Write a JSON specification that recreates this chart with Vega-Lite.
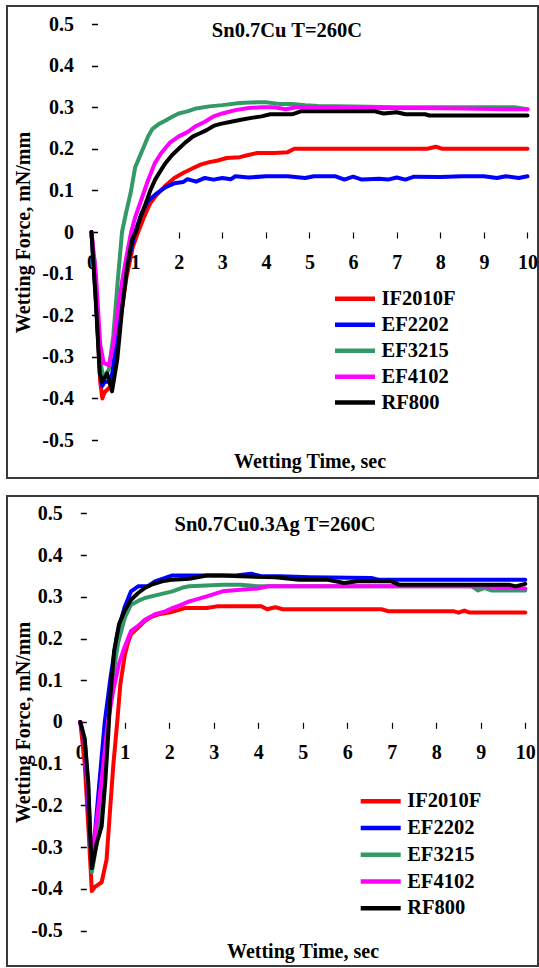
{
  "$schema": "https://vega.github.io/schema/vega-lite/v6.json",
  "padding": {"left": 6, "top": 5, "right": 0, "bottom": 0},
  "spacing": 16,
  "resolve": {"scale": {"color": "independent"}, "legend": {"color": "independent"}},
  "config": {
    "view": {"stroke": "#3a3a3a", "strokeWidth": 2, "fill": "white"},
    "font": "Liberation Serif",
    "background": "white",
    "axis": {"labelFont": "Liberation Serif", "titleFont": "Liberation Serif", "labelFontWeight": "bold", "titleFontWeight": "bold", "labelColor": "#000", "titleColor": "#000"},
    "legend": {"labelFont": "Liberation Serif", "labelFontWeight": "bold", "labelColor": "#000"},
    "title": {"font": "Liberation Serif", "fontWeight": "bold", "color": "#000"},
    "text": {"font": "Liberation Serif"}
  },
  "datasets": {
    "top": [
      {"s":"IF2010F","t":0,"v":0},{"s":"IF2010F","t":0.1,"v":-0.15},{"s":"IF2010F","t":0.2,"v":-0.36},{"s":"IF2010F","t":0.25,"v":-0.4},{"s":"IF2010F","t":0.3,"v":-0.385},{"s":"IF2010F","t":0.45,"v":-0.37},{"s":"IF2010F","t":0.55,"v":-0.3},{"s":"IF2010F","t":0.65,"v":-0.22},{"s":"IF2010F","t":0.8,"v":-0.11},{"s":"IF2010F","t":0.95,"v":-0.035},{"s":"IF2010F","t":1.07,"v":0},{"s":"IF2010F","t":1.2,"v":0.035},{"s":"IF2010F","t":1.35,"v":0.07},{"s":"IF2010F","t":1.5,"v":0.09},{"s":"IF2010F","t":1.7,"v":0.112},{"s":"IF2010F","t":1.9,"v":0.13},{"s":"IF2010F","t":2.1,"v":0.142},{"s":"IF2010F","t":2.3,"v":0.152},{"s":"IF2010F","t":2.5,"v":0.162},{"s":"IF2010F","t":2.7,"v":0.168},{"s":"IF2010F","t":2.9,"v":0.172},{"s":"IF2010F","t":3.1,"v":0.178},{"s":"IF2010F","t":3.4,"v":0.18},{"s":"IF2010F","t":3.6,"v":0.185},{"s":"IF2010F","t":3.8,"v":0.19},{"s":"IF2010F","t":4.2,"v":0.19},{"s":"IF2010F","t":4.5,"v":0.192},{"s":"IF2010F","t":4.65,"v":0.2},{"s":"IF2010F","t":5.5,"v":0.2},{"s":"IF2010F","t":6.5,"v":0.2},{"s":"IF2010F","t":7.7,"v":0.2},{"s":"IF2010F","t":7.9,"v":0.205},{"s":"IF2010F","t":8.05,"v":0.2},{"s":"IF2010F","t":9,"v":0.2},{"s":"IF2010F","t":10,"v":0.2},
      {"s":"EF2202","t":0,"v":0},{"s":"EF2202","t":0.1,"v":-0.16},{"s":"EF2202","t":0.2,"v":-0.34},{"s":"EF2202","t":0.25,"v":-0.37},{"s":"EF2202","t":0.3,"v":-0.36},{"s":"EF2202","t":0.45,"v":-0.36},{"s":"EF2202","t":0.6,"v":-0.24},{"s":"EF2202","t":0.8,"v":-0.09},{"s":"EF2202","t":1.0,"v":0},{"s":"EF2202","t":1.15,"v":0.045},{"s":"EF2202","t":1.3,"v":0.075},{"s":"EF2202","t":1.5,"v":0.093},{"s":"EF2202","t":1.7,"v":0.108},{"s":"EF2202","t":1.9,"v":0.117},{"s":"EF2202","t":2.1,"v":0.12},{"s":"EF2202","t":2.2,"v":0.127},{"s":"EF2202","t":2.4,"v":0.121},{"s":"EF2202","t":2.6,"v":0.13},{"s":"EF2202","t":2.8,"v":0.126},{"s":"EF2202","t":3.0,"v":0.13},{"s":"EF2202","t":3.2,"v":0.127},{"s":"EF2202","t":3.3,"v":0.134},{"s":"EF2202","t":3.6,"v":0.131},{"s":"EF2202","t":4.0,"v":0.134},{"s":"EF2202","t":4.5,"v":0.134},{"s":"EF2202","t":4.9,"v":0.13},{"s":"EF2202","t":5.1,"v":0.134},{"s":"EF2202","t":5.6,"v":0.134},{"s":"EF2202","t":5.8,"v":0.126},{"s":"EF2202","t":6.0,"v":0.133},{"s":"EF2202","t":6.2,"v":0.126},{"s":"EF2202","t":6.6,"v":0.128},{"s":"EF2202","t":6.8,"v":0.126},{"s":"EF2202","t":7.0,"v":0.131},{"s":"EF2202","t":7.2,"v":0.126},{"s":"EF2202","t":7.4,"v":0.133},{"s":"EF2202","t":8.0,"v":0.132},{"s":"EF2202","t":8.5,"v":0.134},{"s":"EF2202","t":9.0,"v":0.134},{"s":"EF2202","t":9.3,"v":0.13},{"s":"EF2202","t":9.5,"v":0.134},{"s":"EF2202","t":9.8,"v":0.13},{"s":"EF2202","t":10,"v":0.134},
      {"s":"EF3215","t":0,"v":0},{"s":"EF3215","t":0.1,"v":-0.14},{"s":"EF3215","t":0.2,"v":-0.31},{"s":"EF3215","t":0.27,"v":-0.35},{"s":"EF3215","t":0.4,"v":-0.33},{"s":"EF3215","t":0.5,"v":-0.25},{"s":"EF3215","t":0.6,"v":-0.12},{"s":"EF3215","t":0.7,"v":0},{"s":"EF3215","t":0.8,"v":0.05},{"s":"EF3215","t":0.9,"v":0.095},{"s":"EF3215","t":1.0,"v":0.155},{"s":"EF3215","t":1.1,"v":0.18},{"s":"EF3215","t":1.2,"v":0.205},{"s":"EF3215","t":1.3,"v":0.23},{"s":"EF3215","t":1.4,"v":0.248},{"s":"EF3215","t":1.55,"v":0.26},{"s":"EF3215","t":1.7,"v":0.268},{"s":"EF3215","t":1.85,"v":0.277},{"s":"EF3215","t":2.0,"v":0.285},{"s":"EF3215","t":2.2,"v":0.29},{"s":"EF3215","t":2.4,"v":0.297},{"s":"EF3215","t":2.7,"v":0.302},{"s":"EF3215","t":3.0,"v":0.305},{"s":"EF3215","t":3.4,"v":0.31},{"s":"EF3215","t":3.8,"v":0.312},{"s":"EF3215","t":4.0,"v":0.312},{"s":"EF3215","t":4.3,"v":0.308},{"s":"EF3215","t":4.6,"v":0.308},{"s":"EF3215","t":4.9,"v":0.305},{"s":"EF3215","t":5.2,"v":0.303},{"s":"EF3215","t":6,"v":0.302},{"s":"EF3215","t":7,"v":0.3},{"s":"EF3215","t":8,"v":0.3},{"s":"EF3215","t":9,"v":0.3},{"s":"EF3215","t":9.7,"v":0.3},{"s":"EF3215","t":10,"v":0.295},
      {"s":"EF4102","t":0,"v":0},{"s":"EF4102","t":0.1,"v":-0.1},{"s":"EF4102","t":0.2,"v":-0.27},{"s":"EF4102","t":0.28,"v":-0.315},{"s":"EF4102","t":0.4,"v":-0.32},{"s":"EF4102","t":0.5,"v":-0.27},{"s":"EF4102","t":0.6,"v":-0.19},{"s":"EF4102","t":0.7,"v":-0.12},{"s":"EF4102","t":0.8,"v":-0.06},{"s":"EF4102","t":0.91,"v":0},{"s":"EF4102","t":1.0,"v":0.035},{"s":"EF4102","t":1.1,"v":0.065},{"s":"EF4102","t":1.2,"v":0.095},{"s":"EF4102","t":1.3,"v":0.125},{"s":"EF4102","t":1.45,"v":0.165},{"s":"EF4102","t":1.6,"v":0.19},{"s":"EF4102","t":1.8,"v":0.215},{"s":"EF4102","t":2.0,"v":0.23},{"s":"EF4102","t":2.2,"v":0.24},{"s":"EF4102","t":2.4,"v":0.255},{"s":"EF4102","t":2.6,"v":0.265},{"s":"EF4102","t":2.8,"v":0.278},{"s":"EF4102","t":3.0,"v":0.285},{"s":"EF4102","t":3.3,"v":0.293},{"s":"EF4102","t":3.6,"v":0.298},{"s":"EF4102","t":3.9,"v":0.3},{"s":"EF4102","t":4.2,"v":0.3},{"s":"EF4102","t":4.45,"v":0.295},{"s":"EF4102","t":4.7,"v":0.3},{"s":"EF4102","t":5.5,"v":0.3},{"s":"EF4102","t":6.5,"v":0.298},{"s":"EF4102","t":7.5,"v":0.298},{"s":"EF4102","t":8.5,"v":0.297},{"s":"EF4102","t":9.5,"v":0.295},{"s":"EF4102","t":10,"v":0.295},
      {"s":"RF800","t":0,"v":0},{"s":"RF800","t":0.1,"v":-0.17},{"s":"RF800","t":0.19,"v":-0.34},{"s":"RF800","t":0.245,"v":-0.36},{"s":"RF800","t":0.36,"v":-0.34},{"s":"RF800","t":0.47,"v":-0.383},{"s":"RF800","t":0.59,"v":-0.307},{"s":"RF800","t":0.7,"v":-0.187},{"s":"RF800","t":0.82,"v":-0.083},{"s":"RF800","t":0.93,"v":-0.018},{"s":"RF800","t":1.02,"v":0},{"s":"RF800","t":1.12,"v":0.035},{"s":"RF800","t":1.23,"v":0.065},{"s":"RF800","t":1.35,"v":0.1},{"s":"RF800","t":1.46,"v":0.126},{"s":"RF800","t":1.6,"v":0.15},{"s":"RF800","t":1.7,"v":0.166},{"s":"RF800","t":1.85,"v":0.185},{"s":"RF800","t":2.0,"v":0.2},{"s":"RF800","t":2.15,"v":0.215},{"s":"RF800","t":2.33,"v":0.23},{"s":"RF800","t":2.5,"v":0.238},{"s":"RF800","t":2.64,"v":0.245},{"s":"RF800","t":2.8,"v":0.255},{"s":"RF800","t":2.96,"v":0.26},{"s":"RF800","t":3.2,"v":0.265},{"s":"RF800","t":3.43,"v":0.27},{"s":"RF800","t":3.7,"v":0.275},{"s":"RF800","t":3.9,"v":0.278},{"s":"RF800","t":4.1,"v":0.283},{"s":"RF800","t":4.6,"v":0.283},{"s":"RF800","t":4.8,"v":0.29},{"s":"RF800","t":5.5,"v":0.29},{"s":"RF800","t":6.5,"v":0.29},{"s":"RF800","t":6.7,"v":0.285},{"s":"RF800","t":7.0,"v":0.288},{"s":"RF800","t":7.2,"v":0.283},{"s":"RF800","t":7.65,"v":0.283},{"s":"RF800","t":7.75,"v":0.28},{"s":"RF800","t":8.5,"v":0.28},{"s":"RF800","t":9.5,"v":0.28},{"s":"RF800","t":10,"v":0.28}
    ],
    "bottom": [
      {"s":"IF2010F","t":0,"v":0},{"s":"IF2010F","t":0.1,"v":-0.1},{"s":"IF2010F","t":0.18,"v":-0.25},{"s":"IF2010F","t":0.26,"v":-0.405},{"s":"IF2010F","t":0.33,"v":-0.395},{"s":"IF2010F","t":0.48,"v":-0.384},{"s":"IF2010F","t":0.59,"v":-0.33},{"s":"IF2010F","t":0.67,"v":-0.21},{"s":"IF2010F","t":0.74,"v":-0.106},{"s":"IF2010F","t":0.83,"v":0},{"s":"IF2010F","t":0.9,"v":0.09},{"s":"IF2010F","t":1.0,"v":0.16},{"s":"IF2010F","t":1.07,"v":0.19},{"s":"IF2010F","t":1.14,"v":0.21},{"s":"IF2010F","t":1.3,"v":0.226},{"s":"IF2010F","t":1.45,"v":0.242},{"s":"IF2010F","t":1.6,"v":0.252},{"s":"IF2010F","t":1.76,"v":0.258},{"s":"IF2010F","t":2.0,"v":0.262},{"s":"IF2010F","t":2.2,"v":0.268},{"s":"IF2010F","t":2.35,"v":0.273},{"s":"IF2010F","t":2.84,"v":0.273},{"s":"IF2010F","t":3.07,"v":0.277},{"s":"IF2010F","t":4.07,"v":0.277},{"s":"IF2010F","t":4.2,"v":0.27},{"s":"IF2010F","t":4.38,"v":0.275},{"s":"IF2010F","t":4.55,"v":0.27},{"s":"IF2010F","t":5.5,"v":0.27},{"s":"IF2010F","t":6.77,"v":0.27},{"s":"IF2010F","t":6.93,"v":0.265},{"s":"IF2010F","t":8.4,"v":0.265},{"s":"IF2010F","t":8.5,"v":0.262},{"s":"IF2010F","t":8.63,"v":0.267},{"s":"IF2010F","t":8.75,"v":0.262},{"s":"IF2010F","t":10,"v":0.262},
      {"s":"EF2202","t":0,"v":0},{"s":"EF2202","t":0.1,"v":-0.05},{"s":"EF2202","t":0.18,"v":-0.2},{"s":"EF2202","t":0.26,"v":-0.345},{"s":"EF2202","t":0.33,"v":-0.265},{"s":"EF2202","t":0.45,"v":-0.12},{"s":"EF2202","t":0.55,"v":0},{"s":"EF2202","t":0.68,"v":0.107},{"s":"EF2202","t":0.83,"v":0.21},{"s":"EF2202","t":0.99,"v":0.273},{"s":"EF2202","t":1.14,"v":0.313},{"s":"EF2202","t":1.3,"v":0.325},{"s":"EF2202","t":1.53,"v":0.326},{"s":"EF2202","t":1.68,"v":0.337},{"s":"EF2202","t":2.07,"v":0.351},{"s":"EF2202","t":2.84,"v":0.351},{"s":"EF2202","t":3.5,"v":0.351},{"s":"EF2202","t":3.84,"v":0.355},{"s":"EF2202","t":4.07,"v":0.349},{"s":"EF2202","t":4.5,"v":0.349},{"s":"EF2202","t":5.15,"v":0.347},{"s":"EF2202","t":6.54,"v":0.345},{"s":"EF2202","t":6.7,"v":0.341},{"s":"EF2202","t":8,"v":0.341},{"s":"EF2202","t":10,"v":0.341},
      {"s":"EF3215","t":0,"v":0},{"s":"EF3215","t":0.1,"v":-0.04},{"s":"EF3215","t":0.18,"v":-0.16},{"s":"EF3215","t":0.26,"v":-0.36},{"s":"EF3215","t":0.37,"v":-0.29},{"s":"EF3215","t":0.48,"v":-0.2},{"s":"EF3215","t":0.56,"v":-0.1},{"s":"EF3215","t":0.63,"v":0},{"s":"EF3215","t":0.72,"v":0.1},{"s":"EF3215","t":0.85,"v":0.19},{"s":"EF3215","t":1.0,"v":0.25},{"s":"EF3215","t":1.14,"v":0.281},{"s":"EF3215","t":1.3,"v":0.29},{"s":"EF3215","t":1.45,"v":0.297},{"s":"EF3215","t":1.76,"v":0.305},{"s":"EF3215","t":2.07,"v":0.313},{"s":"EF3215","t":2.3,"v":0.322},{"s":"EF3215","t":2.45,"v":0.325},{"s":"EF3215","t":3.2,"v":0.329},{"s":"EF3215","t":3.6,"v":0.329},{"s":"EF3215","t":4.0,"v":0.325},{"s":"EF3215","t":5,"v":0.325},{"s":"EF3215","t":6,"v":0.325},{"s":"EF3215","t":7,"v":0.325},{"s":"EF3215","t":8,"v":0.325},{"s":"EF3215","t":8.8,"v":0.325},{"s":"EF3215","t":8.94,"v":0.315},{"s":"EF3215","t":9.09,"v":0.321},{"s":"EF3215","t":9.25,"v":0.315},{"s":"EF3215","t":10,"v":0.315},
      {"s":"EF4102","t":0,"v":0},{"s":"EF4102","t":0.1,"v":-0.05},{"s":"EF4102","t":0.18,"v":-0.18},{"s":"EF4102","t":0.26,"v":-0.34},{"s":"EF4102","t":0.32,"v":-0.28},{"s":"EF4102","t":0.4,"v":-0.21},{"s":"EF4102","t":0.5,"v":-0.12},{"s":"EF4102","t":0.62,"v":0},{"s":"EF4102","t":0.75,"v":0.08},{"s":"EF4102","t":0.87,"v":0.14},{"s":"EF4102","t":0.99,"v":0.178},{"s":"EF4102","t":1.14,"v":0.218},{"s":"EF4102","t":1.3,"v":0.23},{"s":"EF4102","t":1.45,"v":0.245},{"s":"EF4102","t":1.68,"v":0.258},{"s":"EF4102","t":1.91,"v":0.265},{"s":"EF4102","t":2.07,"v":0.273},{"s":"EF4102","t":2.25,"v":0.28},{"s":"EF4102","t":2.45,"v":0.289},{"s":"EF4102","t":2.65,"v":0.295},{"s":"EF4102","t":2.84,"v":0.301},{"s":"EF4102","t":3.2,"v":0.313},{"s":"EF4102","t":3.6,"v":0.317},{"s":"EF4102","t":4.0,"v":0.32},{"s":"EF4102","t":4.23,"v":0.325},{"s":"EF4102","t":5,"v":0.325},{"s":"EF4102","t":6,"v":0.325},{"s":"EF4102","t":7,"v":0.325},{"s":"EF4102","t":8,"v":0.325},{"s":"EF4102","t":9,"v":0.325},{"s":"EF4102","t":9.7,"v":0.322},{"s":"EF4102","t":10,"v":0.32},
      {"s":"RF800","t":0,"v":0},{"s":"RF800","t":0.1,"v":-0.042},{"s":"RF800","t":0.18,"v":-0.146},{"s":"RF800","t":0.22,"v":-0.265},{"s":"RF800","t":0.26,"v":-0.35},{"s":"RF800","t":0.37,"v":-0.29},{"s":"RF800","t":0.48,"v":-0.25},{"s":"RF800","t":0.56,"v":-0.146},{"s":"RF800","t":0.63,"v":-0.026},{"s":"RF800","t":0.67,"v":0.053},{"s":"RF800","t":0.76,"v":0.17},{"s":"RF800","t":0.87,"v":0.234},{"s":"RF800","t":0.99,"v":0.265},{"s":"RF800","t":1.14,"v":0.293},{"s":"RF800","t":1.3,"v":0.309},{"s":"RF800","t":1.45,"v":0.321},{"s":"RF800","t":1.6,"v":0.329},{"s":"RF800","t":1.84,"v":0.337},{"s":"RF800","t":2.07,"v":0.341},{"s":"RF800","t":2.45,"v":0.343},{"s":"RF800","t":2.84,"v":0.351},{"s":"RF800","t":3.2,"v":0.351},{"s":"RF800","t":3.6,"v":0.349},{"s":"RF800","t":4.38,"v":0.347},{"s":"RF800","t":4.92,"v":0.341},{"s":"RF800","t":5.54,"v":0.341},{"s":"RF800","t":5.93,"v":0.333},{"s":"RF800","t":6.23,"v":0.337},{"s":"RF800","t":6.99,"v":0.337},{"s":"RF800","t":7.16,"v":0.329},{"s":"RF800","t":9.63,"v":0.329},{"s":"RF800","t":9.78,"v":0.325},{"s":"RF800","t":10,"v":0.331}
    ]
  },
  "vconcat": [
    {
      "width": 531,
      "height": 472,
      "title": {"text": "Sn0.7Cu T=260C", "anchor": "middle", "frame": "group", "offset": -51.5, "dx": 14.5, "baseline": "alphabetic", "fontSize": 20.5},
      "layer": [
        {
          "data": {"name": "top"},
          "mark": {"type": "line", "strokeWidth": 4, "strokeJoin": "round", "strokeCap": "round"},
          "encoding": {
            "x": {"field": "t", "type": "quantitative",
              "scale": {"domain": [-1.938, 10.241], "nice": false, "zero": false},
              "axis": {"values": [0,1,2,3,4,5,6,7,8,9,10], "offset": -246, "domain": false, "grid": false,
                "tickSize": 6, "tickColor": "#000", "tickWidth": 1.2, "labelPadding": 14,
                "labelFontSize": 20, "labelFlush": false, "labelOverlap": false,
                "title": "Wetting Time, sec", "titleFontSize": 20,
                "titleX": 302.5, "titleY": 235, "titleBaseline": "alphabetic", "titleAlign": "center"}},
            "y": {"field": "v", "type": "quantitative",
              "scale": {"domain": [-0.5913, 0.5433], "nice": false, "zero": false},
              "axis": {"values": [-0.5,-0.45,-0.4,-0.35,-0.3,-0.25,-0.2,-0.15,-0.1,-0.05,0,0.05,0.1,0.15,0.2,0.25,0.3,0.35,0.4,0.45,0.5],
                "offset": -84.5, "domain": false, "grid": false,
                "tickSize": -6, "tickColor": "#000", "tickWidth": 1.5, "labelPadding": 24,
                "labelExpr": "abs(round(datum.value*20)) % 2 == 1 ? '' : (datum.value == 0 ? '0' : (datum.value < 0 ? '-' : '') + format(abs(datum.value), '.1f'))",
                "labelFontSize": 20, "labelFlush": false, "labelOverlap": false,
                "title": "Wetting Force, mN/mm", "titleFontSize": 20,
                "titleX": -58.5, "titleY": 226}},
            "color": {"field": "s", "type": "nominal",
              "scale": {"domain": ["IF2010F","EF2202","EF3215","EF4102","RF800"], "range": ["#ff0000","#0000ff","#339966","#ff00ff","#000000"]},
              "legend": {"orient": "none", "legendX": 335.5, "legendY": 280.3, "title": null, "padding": 0,
                "symbolType": "M-2,0H2", "symbolSize": 400, "symbolStrokeWidth": 4.5,
                "labelFontSize": 20.5, "labelOffset": 14, "rowPadding": 2.95}}
          }
        },
        {
          "mark": {"type": "rule", "color": "#808080", "strokeWidth": 1.5},
          "encoding": {"x": {"datum": 0}, "x2": {"datum": 10}, "y": {"datum": 0}}
        },
        {
          "mark": {"type": "rule", "color": "#000000", "strokeWidth": 1.5},
          "encoding": {"x": {"datum": 0}, "y": {"datum": -0.5}, "y2": {"datum": 0.5}}
        }
      ]
    },
    {
      "width": 531,
      "height": 470,
      "title": {"text": "Sn0.7Cu0.3Ag T=260C", "anchor": "middle", "frame": "group", "offset": -55.5, "dx": 2.5, "baseline": "alphabetic", "fontSize": 20.5},
      "layer": [
        {
          "data": {"name": "bottom"},
          "mark": {"type": "line", "strokeWidth": 4, "strokeJoin": "round", "strokeCap": "round"},
          "encoding": {
            "x": {"field": "t", "type": "quantitative",
              "scale": {"domain": [-1.647, 10.286], "nice": false, "zero": false},
              "axis": {"values": [0,1,2,3,4,5,6,7,8,9,10], "offset": -243.7, "domain": false, "grid": false,
                "tickSize": 6, "tickColor": "#000", "tickWidth": 1.2, "labelPadding": 14,
                "labelFontSize": 20, "labelFlush": false, "labelOverlap": false,
                "title": "Wetting Time, sec", "titleFontSize": 20,
                "titleX": 295.5, "titleY": 235, "titleBaseline": "alphabetic", "titleAlign": "center"}},
            "y": {"field": "v", "type": "quantitative",
              "scale": {"domain": [-0.5846, 0.5414], "nice": false, "zero": false},
              "axis": {"values": [-0.5,-0.45,-0.4,-0.35,-0.3,-0.25,-0.2,-0.15,-0.1,-0.05,0,0.05,0.1,0.15,0.2,0.25,0.3,0.35,0.4,0.45,0.5],
                "offset": -73.3, "domain": false, "grid": false,
                "tickSize": -6, "tickColor": "#000", "tickWidth": 1.5, "labelPadding": 24,
                "labelExpr": "abs(round(datum.value*20)) % 2 == 1 ? '' : (datum.value == 0 ? '0' : (datum.value < 0 ? '-' : '') + format(abs(datum.value), '.1f'))",
                "labelFontSize": 20, "labelFlush": false, "labelOverlap": false,
                "title": "Wetting Force, mN/mm", "titleFontSize": 20,
                "titleX": -47.3, "titleY": 226}},
            "color": {"field": "s", "type": "nominal",
              "scale": {"domain": ["IF2010F","EF2202","EF3215","EF4102","RF800"], "range": ["#ff0000","#0000ff","#339966","#ff00ff","#000000"]},
              "legend": {"orient": "none", "legendX": 361.2, "legendY": 292.8, "title": null, "padding": 0,
                "symbolType": "M-2,0H2", "symbolSize": 400, "symbolStrokeWidth": 4.5,
                "labelFontSize": 20.5, "labelOffset": 14, "rowPadding": 3.75}}
          }
        },
        {
          "mark": {"type": "rule", "color": "#808080", "strokeWidth": 1.5},
          "encoding": {"x": {"datum": 0}, "x2": {"datum": 10}, "y": {"datum": 0}}
        },
        {
          "mark": {"type": "rule", "color": "#000000", "strokeWidth": 1.5},
          "encoding": {"x": {"datum": 0}, "y": {"datum": -0.5}, "y2": {"datum": 0.5}}
        }
      ]
    }
  ]
}
